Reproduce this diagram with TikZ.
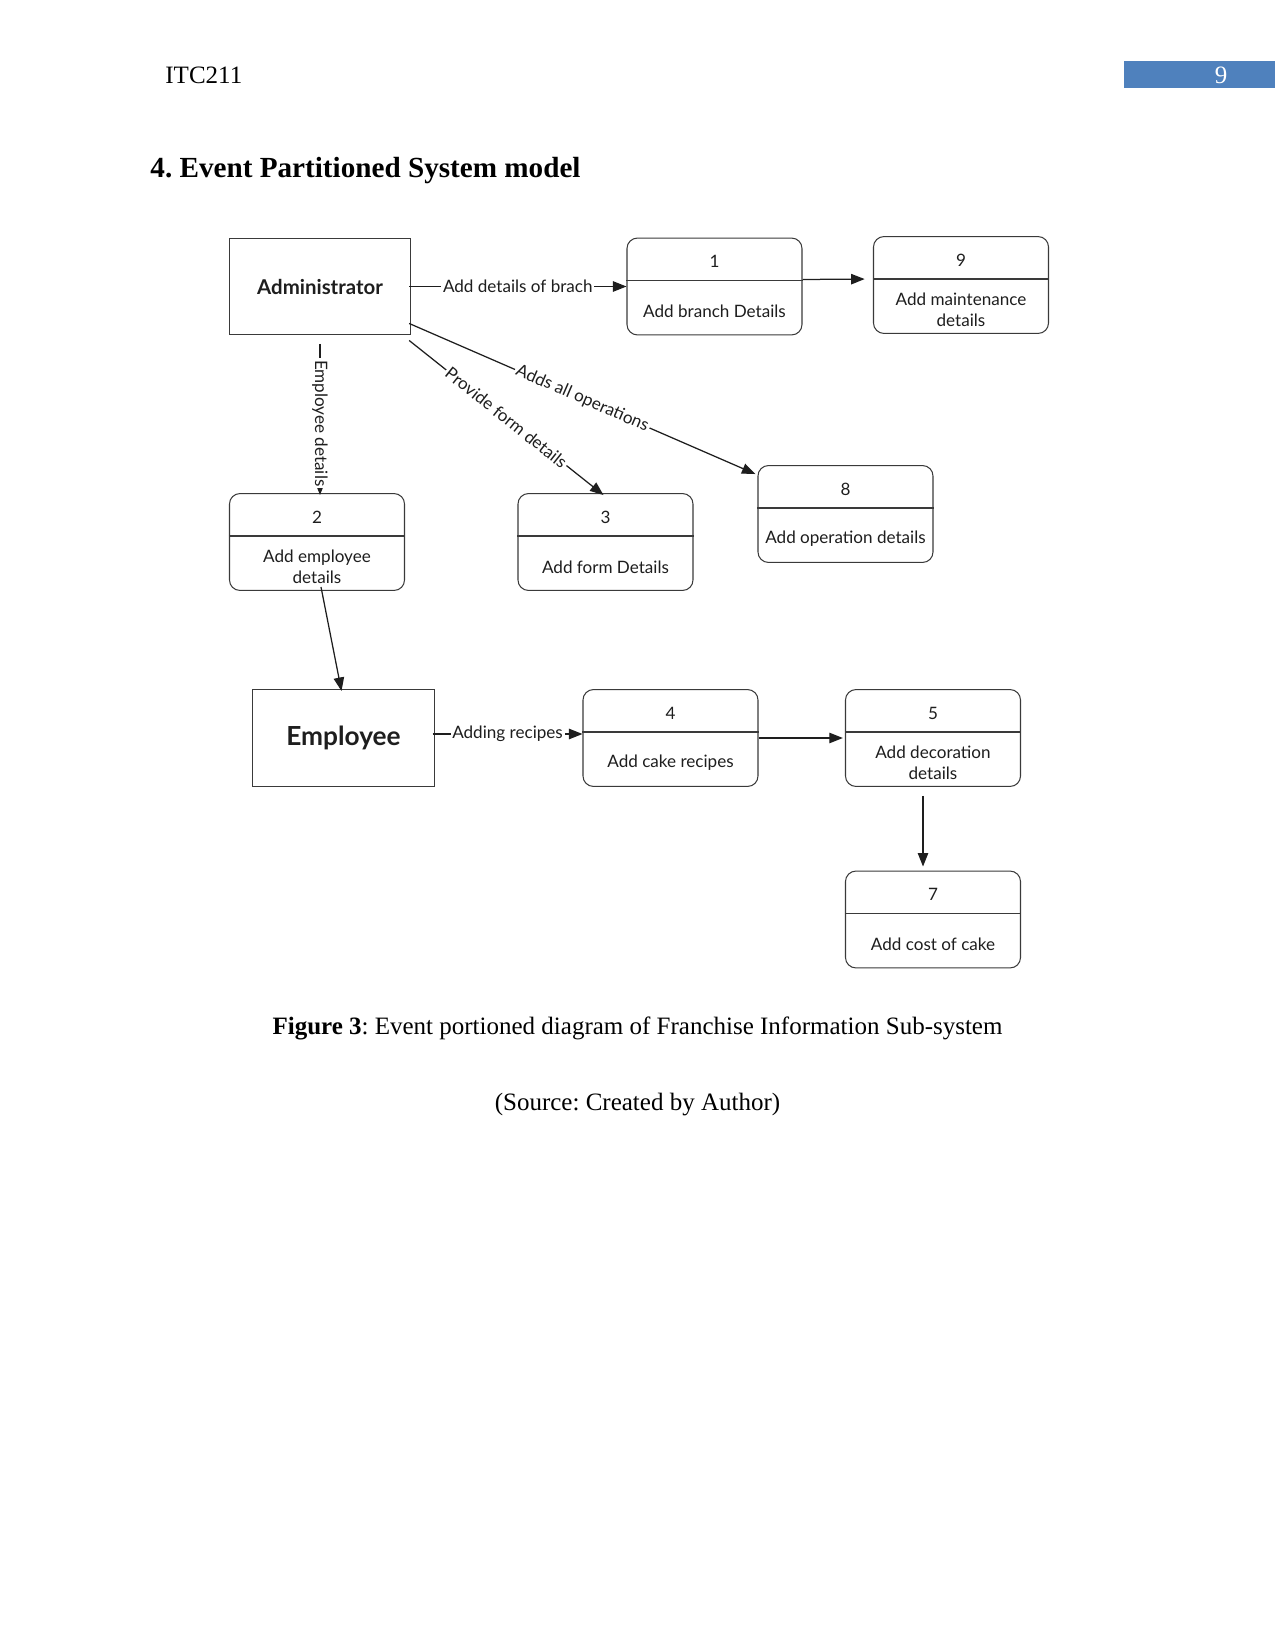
\documentclass[tikz,border=0pt]{standalone}
\usepackage{fontspec}
\setmainfont{Liberation Serif}
\newfontfamily\diafont{Lato}
\usepackage{tikz}
\usetikzlibrary{arrows.meta,positioning,calc}
\definecolor{ink}{HTML}{1E1E1E}
\definecolor{boxline}{HTML}{3A3A3A}
\definecolor{pagebar}{HTML}{4F81BD}
\frenchspacing

% process box: name, x, y, number, text
\newcommand{\procbox}[5]{%
  \node[proc] (#1) at (#2,#3) {};
  \draw[divline] ($(#1.west)+(0,-6)$) -- ($(#1.east)+(0,-6)$);
  \node[proctxt] (#1num) at ($(#1.center)+(0,-25)$) {#4};
  \node[proctxt] (#1txt) at ($(#1.center)+(0,25)$) {#5};
}

\begin{document}
\begin{tikzpicture}[
  x=0.48pt, y=-0.48pt,
  proc/.style={draw=boxline, line width=0.5pt, rounded corners=5pt,
               minimum width=84pt, minimum height=46.5pt, inner sep=0pt},
  ent/.style={draw=boxline, line width=0.5pt, minimum width=87pt,
              minimum height=46.5pt, inner sep=0pt, text=ink},
  divline/.style={draw=boxline, line width=0.5pt},
  proctxt/.style={font=\diafont\fontsize{8.2}{10.3}\selectfont, text=ink,
                  align=center, inner sep=0pt},
  flow/.style={-{Triangle[length=6.5pt,width=5pt]}, line width=0.6pt, draw=ink},
  lbl/.style={font=\diafont\fontsize{8.2}{9}\selectfont, text=ink,
              fill=white, inner sep=0.8pt},
  page/.style={font=\fontsize{12}{14}\selectfont, inner sep=0pt},
]
\useasboundingbox (0,0) rectangle (1275,1651);

% ---------------- page header ----------------
\node[page, anchor=west] (course) at (165,75) {ITC211};
\fill[pagebar] (1124,61) rectangle (1275,88);
\node[page, text=white] (pageno) at (1221,75) {9};
\node[font=\fontsize{14}{16}\selectfont\bfseries, anchor=west, inner sep=0pt]
  (heading) at (150,171) {4. Event Partitioned System model};

% ---------------- entities ----------------
\node[ent, font=\diafont\bfseries\fontsize{9.8}{11}\selectfont] (admin) at (320,286.5) {Administrator};
\node[ent, font=\diafont\bfseries\fontsize{12.6}{14}\selectfont] (emp) at (343.5,738) {Employee};

% ---------------- processes ----------------
\procbox{p1}{714.5}{286.5}{1}{Add branch Details}
\procbox{p9}{961}{285}{9}{Add maintenance\\details}
\procbox{p2}{317}{542}{2}{Add employee\\details}
\procbox{p3}{605.5}{542}{3}{Add form Details}
\procbox{p8}{845.5}{514}{8}{Add operation details}
\procbox{p4}{670.5}{738}{4}{Add cake recipes}
\procbox{p5}{933}{738}{5}{Add decoration\\details}
\procbox{p7}{933}{919.5}{7}{Add cost of cake}

% ---------------- flows from the administrator ----------------
\draw[flow] ($(admin.east)+(-2,0)$) -- node[lbl] {Add details of brach} (p1.west);
\draw[flow, shorten >=4pt] ($(p1.east)+(0,-7)$) -- ($(p9.west)+(0,-6)$);
\draw[flow] ($(admin.south east)+(-2,-12)$) --
  node[lbl, sloped] {Adds all operations} ($(p8.north west)+(-2,9)$);
\draw[flow] ($(admin.south east)+(-2,5)$) --
  node[lbl, sloped] {Provide form details} ($(p3.north)+(-2,2)$);
\draw[flow, shorten <=4pt] (admin.south) --
  node[lbl, rotate=-90, pos=0.55] {Employee details} ($(admin.south |- p2.north)+(0,2)$);

% ---------------- flows from the employee ----------------
\draw[flow] ($(p2.south)+(4,-4)$) -- ($(emp.north)+(-2,2)$);
\draw[flow] ($(emp.east)+(-2,-4)$) -- node[lbl] {Adding recipes} ($(p4.west)+(0,-4)$);
\draw[flow, shorten >=1pt] (p4.east) -- (p5.west);
\draw[flow] ($(p5.south)+(-10,9)$) -- ($(p7.north)+(-10,-4)$);

% ---------------- caption ----------------
\node[page] (caption) at (637.5,1028)
  {\textbf{Figure 3}: Event portioned diagram of Franchise Information Sub-system};
\node[page] (source) at (637.5,1105) {(Source: Created by Author)};

\end{tikzpicture}
\end{document}
